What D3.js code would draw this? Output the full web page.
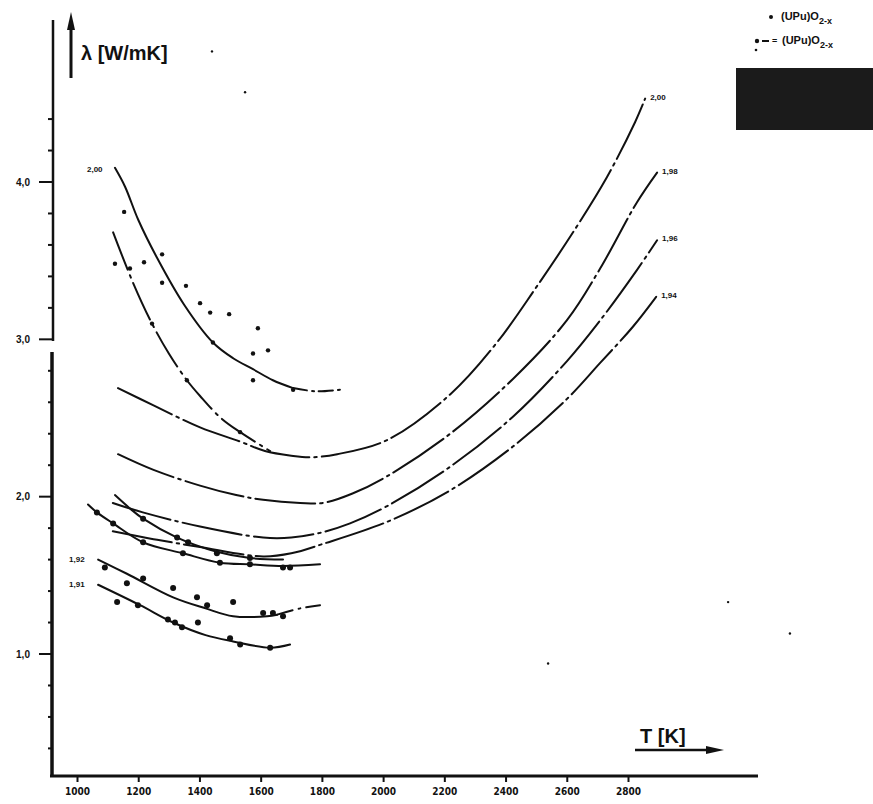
<!DOCTYPE html>
<html>
<head>
<meta charset="utf-8">
<script src="https://cdn.jsdelivr.net/npm/d3@7"></script>
<style>
  body { margin: 0; background: #fff; }
  svg { display: block; font-family: "Liberation Sans", Arial, sans-serif; }
</style>
</head>
<body>
<script>
// Thermal conductivity of (U,Pu)O2-x vs temperature (scanned plot)

// axis ticks
var tTicks = [1000, 1200, 1400, 1600, 1800, 2000, 2200, 2400, 2600, 2800];
var lamMajor = [1, 2, 3, 4];
var lamLabels = ["1,0", "2,0", "3,0", "4,0"];
var lamMinor = [0.4, 0.6, 0.8, 1.2, 1.4, 1.6, 1.8, 2.2, 2.4, 2.6, 2.8, 3.2, 3.4, 3.6, 3.8, 4.2, 4.4];

// O/M fitted curves [T (K), lambda (W/mK)]
var curveA = [[1124,4.09],[1157,3.97],[1200,3.76],[1261,3.52],[1350,3.22],[1444,2.98],[1510,2.88],[1575,2.81],[1640,2.74],[1706,2.69]];
var curveATail = [[1706,2.69],[1780,2.67],[1859,2.68]];
var curveB = [[1118,3.68],[1183,3.36],[1245,3.10],[1300,2.91],[1359,2.74],[1402,2.64],[1470,2.50],[1533,2.41],[1631,2.29]];
var curve200 = [[1134,2.69],[1250,2.58],[1402,2.44],[1533,2.35],[1614,2.29],[1700,2.26],[1761,2.25],[1850,2.27],[2013,2.36],[2219,2.65],[2372,2.98],[2500,3.33],[2627,3.70],[2731,4.03],[2823,4.38],[2856,4.53]];
var curve198 = [[1134,2.27],[1250,2.17],[1402,2.07],[1520,2.01],[1608,1.98],[1729,1.96],[1804,1.96],[1900,2.02],[2013,2.13],[2219,2.40],[2425,2.75],[2600,3.12],[2709,3.45],[2829,3.87],[2895,4.06]];
var curve196 = [[1117,1.96],[1215,1.90],[1402,1.81],[1608,1.74],[1700,1.74],[1794,1.77],[1892,1.83],[2013,1.94],[2219,2.19],[2425,2.51],[2600,2.86],[2709,3.12],[2829,3.44],[2895,3.63]];
var curve194 = [[1117,1.78],[1250,1.73],[1402,1.68],[1608,1.62],[1700,1.64],[1804,1.70],[2013,1.84],[2219,2.04],[2425,2.32],[2600,2.62],[2709,2.85],[2816,3.08],[2892,3.27]];
var curve3 = [[1124,2.01],[1170,1.93],[1216,1.86],[1327,1.74],[1457,1.65],[1565,1.61],[1673,1.60]];
var curve4 = [[1036,1.95],[1065,1.90],[1118,1.83],[1216,1.71],[1346,1.64],[1467,1.58],[1565,1.57],[1673,1.56],[1794,1.57]];
var curveG = [[1069,1.60],[1163,1.51],[1314,1.36],[1420,1.29],[1510,1.24],[1621,1.24],[1654,1.25]];
var curveGTail = [[1654,1.25],[1729,1.29],[1794,1.31]];
var curveH = [[1069,1.44],[1206,1.31],[1314,1.20],[1420,1.12],[1510,1.08],[1631,1.04],[1696,1.06]];

// measured points
var ptsHigh = [[1154,3.81],[1124,3.48],[1173,3.45],[1219,3.49],[1278,3.54],[1278,3.36],[1356,3.34],[1402,3.23],[1435,3.17],[1497,3.16],[1591,3.07],[1575,2.91],[1624,2.93],[1575,2.74],[1245,3.10],[1359,2.74],[1533,2.41],[1444,2.98],[1706,2.68]];
var ptsMid = [[1065,1.90],[1118,1.83],[1216,1.71],[1216,1.86],[1327,1.74],[1346,1.64],[1363,1.71],[1457,1.64],[1467,1.58],[1565,1.57],[1565,1.61],[1673,1.55],[1696,1.55]];
var ptsG = [[1091,1.55],[1163,1.45],[1216,1.48],[1314,1.42],[1392,1.36],[1425,1.31],[1510,1.33],[1608,1.26],[1640,1.26],[1673,1.24]];
var ptsH = [[1131,1.33],[1199,1.31],[1297,1.22],[1320,1.20],[1343,1.17],[1395,1.20],[1500,1.10],[1533,1.06],[1631,1.04]];
var specks = [[1441,4.83],[1549,4.57],[3329,1.13],[3127,1.33],[2539,0.94]];

// curve labels
var rightLabels = ["2,00", "1,98", "1,96", "1,94"];
var rightEnds = [curve200, curve198, curve196, curve194];

var W = 873, H = 804;
var ink = "#111";

var svg = d3.select("body").append("svg")
    .attr("width", W)
    .attr("height", H);

var x = d3.scaleLinear().domain([1000, 2800]).range([77, 628]);
var y = d3.scaleLinear().domain([1, 4]).range([654, 182]);

var line = d3.line()
    .x(function(d) { return x(d[0]); })
    .y(function(d) { return y(d[1]); })
    .curve(d3.curveCatmullRom.alpha(0.5));

/* ---------- axes ---------- */
var axisY = 776, axisX = 52;

// x axis line
svg.append("line")
   .attr("x1", axisX - 2).attr("x2", 758)
   .attr("y1", axisY).attr("y2", axisY)
   .attr("stroke", ink).attr("stroke-width", 3);

var xAxis = svg.append("g")
   .attr("transform", "translate(0," + (axisY + 1) + ")")
   .call(d3.axisBottom(x).tickValues(tTicks).tickSize(5).tickPadding(6)
        .tickFormat(function(d) { return d; }));
xAxis.select(".domain").remove();
xAxis.selectAll(".tick line").attr("stroke", ink).attr("stroke-width", 2);
xAxis.selectAll("text")
   .attr("fill", ink)
   .style("font-size", "10px")
   .style("font-weight", "bold")
   .style("font-family", "'DejaVu Sans Condensed', 'DejaVu Sans', sans-serif");

// y axis line with a break between 2.9 and 3.0
svg.append("line")
   .attr("x1", axisX + 1).attr("x2", axisX + 1)
   .attr("y1", 20).attr("y2", y(2.99))
   .attr("stroke", ink).attr("stroke-width", 2.5);
svg.append("line")
   .attr("x1", axisX).attr("x2", axisX)
   .attr("y1", y(2.92)).attr("y2", axisY + 1)
   .attr("stroke", ink).attr("stroke-width", 3.5);

svg.selectAll(".ymajor")
   .data(lamMajor)
   .enter().append("line")
   .attr("class", "ymajor")
   .attr("x1", axisX - 13).attr("x2", axisX)
   .attr("y1", function(d) { return y(d); })
   .attr("y2", function(d) { return y(d); })
   .attr("stroke", ink).attr("stroke-width", 2);

svg.selectAll(".yminor")
   .data(lamMinor)
   .enter().append("line")
   .attr("class", "yminor")
   .attr("x1", axisX - 4).attr("x2", axisX)
   .attr("y1", function(d) { return y(d); })
   .attr("y2", function(d) { return y(d); })
   .attr("stroke", ink).attr("stroke-width", 2);

svg.selectAll(".ylab")
   .data(lamMajor)
   .enter().append("text")
   .attr("class", "ylab")
   .attr("x", 23)
   .attr("y", function(d) { return y(d) + 3.5; })
   .attr("text-anchor", "middle")
   .attr("fill", ink)
   .style("font-size", "10px")
   .style("font-weight", "bold")
   .text(function(d, i) { return lamLabels[i]; });

// y axis arrow + title
svg.append("line")
   .attr("x1", 71).attr("x2", 71).attr("y1", 26).attr("y2", 78)
   .attr("stroke", ink).attr("stroke-width", 3);
svg.append("path")
   .attr("d", "M71,12 L75,30 L67,30 Z")
   .attr("fill", ink);
svg.append("text")
   .attr("x", 81).attr("y", 60)
   .attr("fill", ink)
   .style("font-size", "20px")
   .style("font-weight", "bold")
   .text("λ [W/mK]");

// x axis title with arrow
svg.append("text")
   .attr("x", 640).attr("y", 743)
   .attr("fill", ink)
   .style("font-size", "20px")
   .style("font-weight", "bold")
   .text("T [K]");
svg.append("line")
   .attr("x1", 635).attr("x2", 712).attr("y1", 750).attr("y2", 750)
   .attr("stroke", ink).attr("stroke-width", 2.5);
svg.append("path")
   .attr("d", "M724,750 L706,746 L706,754 Z")
   .attr("fill", ink);

/* ---------- curves ---------- */
var longDashDot = "60,5,2.5,5";

function drawCurve(data, dash, width) {
  svg.append("path")
     .datum(data)
     .attr("d", line)
     .attr("fill", "none")
     .attr("stroke", ink)
     .attr("stroke-width", width || 2)
     .attr("stroke-linecap", "round")
     .attr("stroke-dasharray", dash || null);
}

drawCurve(curveA);
drawCurve(curveATail, "14,5,2,5");
drawCurve(curveB, "40,6,2.5,6");
drawCurve(curve200, longDashDot);
drawCurve(curve198, longDashDot);
drawCurve(curve196, longDashDot);
drawCurve(curve194, longDashDot);
drawCurve(curve3);
drawCurve(curve4);
drawCurve(curveG);
drawCurve(curveGTail, "16,6,2,6");
drawCurve(curveH);

/* ---------- points ---------- */
function drawPoints(data, r) {
  svg.append("g").selectAll("circle")
     .data(data)
     .enter().append("circle")
     .attr("cx", function(d) { return x(d[0]); })
     .attr("cy", function(d) { return y(d[1]); })
     .attr("r", r)
     .attr("fill", ink);
}

drawPoints(ptsHigh, 2.2);
drawPoints(ptsMid, 3);
drawPoints(ptsG, 3);
drawPoints(ptsH, 3);
drawPoints(specks, 1.2);

/* ---------- curve labels ---------- */
svg.selectAll(".rlab")
   .data(rightLabels)
   .enter().append("text")
   .attr("class", "rlab")
   .attr("x", function(d, i) { var e = rightEnds[i]; return x(e[e.length - 1][0]) + 5; })
   .attr("y", function(d, i) { var e = rightEnds[i]; return y(e[e.length - 1][1]) + 1; })
   .attr("fill", ink)
   .style("font-size", "8px")
   .style("font-weight", "bold")
   .text(function(d) { return d; });

svg.append("text")
   .attr("x", x(curveA[0][0]) - 28).attr("y", y(curveA[0][1]) + 4)
   .attr("fill", ink)
   .style("font-size", "8px")
   .style("font-weight", "bold")
   .text("2,00");

svg.append("text")
   .attr("x", x(curveG[0][0]) - 29).attr("y", y(curveG[0][1]) + 2)
   .attr("fill", ink)
   .style("font-size", "8px")
   .style("font-weight", "bold")
   .text("1,92");

svg.append("text")
   .attr("x", x(curveH[0][0]) - 29).attr("y", y(curveH[0][1]) + 2)
   .attr("fill", ink)
   .style("font-size", "8px")
   .style("font-weight", "bold")
   .text("1,91");

/* ---------- legend ---------- */
var leg = svg.append("g");
leg.append("circle").attr("cx", 771).attr("cy", 17).attr("r", 2).attr("fill", ink);
var t1 = leg.append("text").attr("x", 781).attr("y", 20)
   .attr("fill", ink).style("font-size", "11px").style("font-weight", "bold");
t1.append("tspan").text("(UPu)O");
t1.append("tspan").attr("dy", 4).style("font-size", "9px").text("2-x");

leg.append("circle").attr("cx", 757).attr("cy", 41).attr("r", 2.2).attr("fill", ink);
leg.append("line").attr("x1", 762).attr("x2", 769).attr("y1", 41).attr("y2", 41)
   .attr("stroke", ink).attr("stroke-width", 2);
leg.append("circle").attr("cx", 756).attr("cy", 50).attr("r", 1.3).attr("fill", ink);
leg.append("text").attr("x", 772).attr("y", 44)
   .attr("fill", ink).style("font-size", "9px").style("font-weight", "bold").text("=");
var t2 = leg.append("text").attr("x", 782).attr("y", 44)
   .attr("fill", ink).style("font-size", "11px").style("font-weight", "bold");
t2.append("tspan").text("(UPu)O");
t2.append("tspan").attr("dy", 4).style("font-size", "9px").text("2-x");

// dark scanned block under legend
leg.append("rect")
   .attr("x", 736).attr("y", 68)
   .attr("width", W - 736).attr("height", 62)
   .attr("fill", "#1b1b1b");
</script>
</body>
</html>
